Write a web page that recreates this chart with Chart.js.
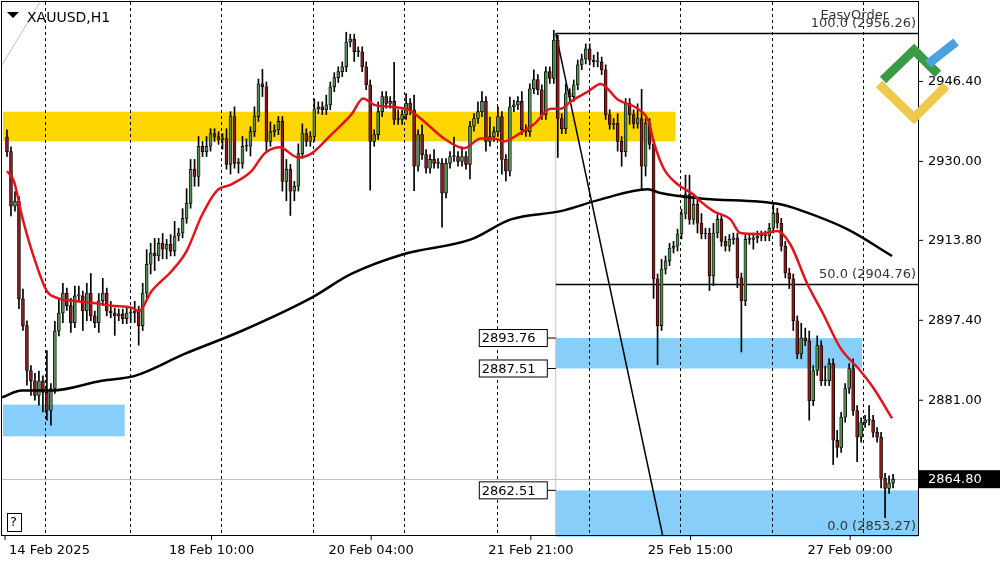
<!DOCTYPE html>
<html><head><meta charset="utf-8">
<script src="https://cdn.jsdelivr.net/npm/chart.js@4/dist/chart.umd.min.js"></script>
<style>html,body{margin:0;padding:0;background:#fff}#w{width:1000px;height:562px}</style>
</head><body><div id="w"><canvas id="c"></canvas></div>
<script>
const symbol = "XAUUSD,H1";
const firstOpen = 2935.0;
const closes = [
2932.0,2920.8,2921.8,2901.8,2896.3,2887.1,2885.0,2882.0,2885.0,2882.6,2878.9,2883.4,2895.2,2898.9,2903.0,2900.4,2896.9,2902.4,2902.4,2899.3,
2903.0,2898.3,2896.9,2901.4,2903.0,2899.3,2898.9,2898.3,2898.7,2897.7,2898.9,2898.9,2899.3,2896.3,2903.0,2908.9,2911.2,2910.6,2913.2,2912.0,
2913.0,2911.6,2914.7,2915.3,2918.3,2921.4,2928.4,2926.9,2933.1,2932.0,2933.1,2935.7,2935.1,2934.5,2934.7,2929.4,2939.2,2929.6,2929.6,2933.1,
2933.1,2936.1,2939.2,2945.9,2945.3,2934.1,2936.1,2936.5,2938.2,2925.9,2928.4,2923.9,2924.9,2931.6,2935.7,2934.1,2935.1,2940.8,2941.2,2940.6,
2941.6,2945.3,2947.2,2948.4,2949.4,2954.5,2955.1,2952.5,2952.5,2949.4,2945.7,2934.1,2935.5,2940.2,2943.3,2941.9,2942.3,2938.6,2938.6,2939.6,
2941.9,2940.6,2929.0,2935.5,2931.4,2928.6,2930.4,2929.6,2929.6,2923.5,2929.6,2931.0,2931.0,2930.0,2931.0,2929.4,2937.2,2938.8,2940.2,2942.3,
2934.1,2935.1,2936.1,2939.2,2930.4,2928.0,2941.2,2941.6,2942.3,2936.5,2936.1,2944.9,2946.8,2944.7,2939.6,2948.4,2947.0,2954.9,2938.8,2936.7,
2943.9,2943.3,2945.7,2949.8,2951.0,2953.1,2950.8,2950.4,2950.4,2948.8,2939.6,2937.6,2937.8,2934.1,2932.0,2941.9,2939.6,2937.8,2938.8,2929.0,
2937.8,2933.5,2905.9,2896.3,2907.9,2909.6,2912.2,2912.6,2915.1,2919.2,2923.2,2918.1,2921.2,2917.3,2915.1,2915.3,2906.5,2915.3,2918.1,2913.6,
2912.6,2914.0,2914.3,2906.1,2901.4,2914.0,2914.0,2914.3,2914.7,2914.7,2914.7,2916.3,2919.4,2917.3,2912.6,2907.1,2905.9,2897.3,2890.5,2893.8,
2893.2,2880.9,2887.1,2892.2,2885.0,2885.0,2888.5,2872.8,2871.3,2877.5,2883.4,2887.5,2878.9,2873.4,2876.4,2876.9,2876.9,2874.4,2873.4,2865.0,
2862.9,2864.0,2864.8];
const wickUp = [
1.5,1,2,1,2,1,1,1.5,2,1,8.6,1,2,3,2,1,1.5,2,2,1,
2,4,1,1.5,3,1,2,1,1,1,1,1,2,1,2,3,2,3,1,2,
1,2,3,1,2,3,2,2,2,1,2,1,1,1,1,2,1,2,1,2,
1.5,1,2,1,3,1,2,1,1,1,2,1,1,2,2,1,1,2,1,1,
2,1,1,1,1,2,1,1,1,1,1,1,1,2,1,1,1,8,2,1,
2,1,3,1,2,1,1,2,1,1,1,1,4,1,2,1,1,1,2,2,
1,4,1,2,1,1,2,1,1,2,1,1,2,1,1,1,1,2,1,1,
2,1,1,1,1,1,1,1,2,1,1,1,1,2,1,1,1,1,3,6,
1,1,1,1,2,1,1,1,1,1,4,4,2,1,2,1,1,2,1,1,
1,1,1,1,1,1,1,1,1,1,1,1,2,1,1,1,1,1,1,3,
2,2,1,2,1,3,1,1,2,1,1,1,2,1,1,1,3,1,1,1,
1,1.5,1];
const wickDn = [
1,2,1,2,1,3,3,1,2,4,2,3,1,1,2,1,2,1,1,4,
2,1,1,2,1,1,1,4,1,1,1,2,2,4,1,1,2,3,1,2,
2,1,1,1,1,1,1,2,2,1,1,1,1,1,2,1,2,1,2,1,
1,2,1,1,2,2,1,1,1,2,4,5,2,1,1,1,1,1,1,1,
1,1,1,1,1,1,1,2,1,1,1,10,1,1,1,1,1,1,1,1,
1,1,5,1,1,1,1,1,1,7,1,1,1,1,1,1,3,1,1,1,
2,1,1,1,3,2,1,1,1,1,1,1,1,1,1,1,1,1,8,1,
1,1,1,1,1,1,1,1,1,1,1,1,1,2,3,1,2,1,1,5,
2,1,4,8,1,1,1,1,1,1,1,1,1,2,1,1,3,2,1,1,
1,1,1,2,10.5,1,1,2,1,1,1,1,1,1,1,1,2,2,1,1,
1,4,1,1,1,1,1,5,2,1,1,1,1,5,1,1,1,1,1,2,
6,1,1];
const maFastIdx = [0,1.75,3.75,6.25,10,12.5,16.25,21.25,26.25,31.25,33,36.25,41.25,45,48.75,52.5,56.25,61.25,64.5,68.25,73,76.25,81.25,86.25,89.25,92,96.25,100.5,104.5,109.5,114.5,118.75,122,124.5,128,132,136.25,138.75,141.25,145.5,148.75,153,158,160.75,162,164.5,168,172,173.75,177,181.25,183.75,188.75,193,196.25,200.5,204.5,208.75,213.75,217,221.75];
const maFastVal = [2928.0,2925.9,2918.8,2911.6,2903.4,2902.0,2901.4,2901.0,2900.4,2900.0,2899.3,2903.4,2907.5,2911.6,2918.8,2923.9,2925.3,2928.0,2931.6,2932.9,2930.8,2931.6,2935.5,2939.6,2942.9,2941.6,2941.2,2940.6,2938.2,2934.7,2932.7,2934.7,2934.7,2934.1,2935.5,2937.6,2940.8,2940.8,2942.3,2944.3,2945.9,2942.7,2940.8,2938.2,2934.1,2928.6,2925.3,2923.2,2921.8,2919.8,2918.1,2915.3,2915.1,2915.7,2913.0,2904.9,2898.7,2891.8,2887.1,2883.6,2877.3];
const maSlowIdx = [-1.25,3.75,11.25,23.75,32,44.5,58.75,76.25,86.25,99.5,116.25,126.25,138.75,148.75,160.5,163.75,173.75,193.75,198,210.5,221.75];
const maSlowVal = [2881.6,2883.0,2883.0,2885.0,2886.0,2890.5,2895.2,2902.0,2906.9,2911.0,2914.0,2918.1,2919.8,2922.2,2924.3,2923.5,2922.4,2921.2,2920.2,2916.1,2910.6];
const yTicks = [2946.40,2930.00,2913.80,2897.40,2881.00];
const lastPrice = 2864.80;
const xLabels = ["14 Feb 2025","18 Feb 10:00","20 Feb 04:00","21 Feb 21:00","25 Feb 15:00","27 Feb 09:00"];
const xLabelIdx = [-0.5,51.25,91.25,131.25,171.25,211.25];
const daySeps = [9.5,30.75,53.5,76.75,99.5,122.75,145.75,168.5,191.75,214.5];
const fibHigh = 2956.26, fibMid = 2904.76, fibLow = 2853.27;
const zones = [
 {x0:-1,x1:167.5,lo:2934.1,hi:2940.2,c:'#ffd700'},
 {x0:-1,x1:29.5,lo:2873.6,hi:2880.1,c:'#87cefa'},
 {x0:137.5,x1:214.25,lo:2887.51,hi:2893.76,c:'#87cefa'},
 {x0:137.5,x1:229,lo:2853.0,hi:2862.51,c:'#87cefa'}];
const zoneLabels = [2893.76,2887.51,2862.51];

const opens = closes.map((c,i)=> i===0 ? firstOpen : closes[i-1]);
const wicks = closes.map((c,i)=>({x:i,y:[Math.min(opens[i],c)-wickDn[i],Math.max(opens[i],c)+wickUp[i]]}));
const bodies = closes.map((c,i)=>({x:i,y:[opens[i],c]}));
const bodyCol = closes.map((c,i)=> c>=opens[i] ? '#4f8f4f' : '#8b1a1a');

const font = "13px 'DejaVu Sans'";
const deco = {
 id:'deco',
 beforeDatasetsDraw(ch){
  const {ctx,chartArea:a,scales:{x,y}} = ch;
  ctx.save();
  zones.forEach(z=>{ctx.fillStyle=z.c;const X0=Math.max(x.getPixelForValue(z.x0),a.left),X1=Math.min(x.getPixelForValue(z.x1),a.right);
   ctx.fillRect(X0,y.getPixelForValue(z.hi),X1-X0,y.getPixelForValue(z.lo)-y.getPixelForValue(z.hi));});
  ctx.strokeStyle='#000';ctx.lineWidth=1;ctx.setLineDash([3,3]);
  daySeps.forEach(d=>{const X=Math.round(x.getPixelForValue(d))+0.5;ctx.beginPath();ctx.moveTo(X,a.top);ctx.lineTo(X,a.bottom);ctx.stroke();});
  ctx.setLineDash([]);
  ctx.strokeStyle='#c0c0c0';
  const ly=Math.round(y.getPixelForValue(lastPrice))+0.5;
  ctx.beginPath();ctx.moveTo(a.left,ly);ctx.lineTo(a.right,ly);ctx.stroke();
  const fx=x.getPixelForValue(137.5);
  ctx.beginPath();ctx.moveTo(fx,y.getPixelForValue(fibHigh));ctx.lineTo(fx,a.bottom);ctx.stroke();
  ctx.beginPath();ctx.moveTo(a.left,65);ctx.lineTo(40,a.top);ctx.stroke();
  ctx.strokeStyle='#000';ctx.lineWidth=1.5;
  [fibHigh,fibMid].forEach(p=>{const Y=y.getPixelForValue(p);ctx.beginPath();ctx.moveTo(fx,Y);ctx.lineTo(a.right,Y);ctx.stroke();});
  ctx.beginPath();ctx.moveTo(fx,y.getPixelForValue(fibHigh));ctx.lineTo(x.getPixelForValue(164.25),a.bottom);ctx.stroke();
  ctx.restore();
 },
 afterDraw(ch){
  const {ctx,chartArea:a,scales:{x,y}} = ch;
  ctx.save();
  ctx.strokeStyle='#000';ctx.lineWidth=1;ctx.strokeRect(a.left-0.5,a.top-0.5,a.right-a.left+1,a.bottom-a.top+1);
  ctx.font=font;ctx.fillStyle='#000';ctx.textBaseline='middle';
  yTicks.forEach(t=>{const Y=y.getPixelForValue(t);ctx.beginPath();ctx.moveTo(a.right,Y);ctx.lineTo(a.right+5,Y);ctx.stroke();ctx.fillText(t.toFixed(2),a.right+10,Y);});
  const LY=y.getPixelForValue(lastPrice);
  ctx.fillStyle='#000';ctx.fillRect(a.right+1,LY-9,81,18);ctx.fillStyle='#fff';ctx.fillText(lastPrice.toFixed(2),a.right+10,LY);
  ctx.fillStyle='#000';ctx.textBaseline='alphabetic';
  xLabels.forEach((l,i)=>{const X=x.getPixelForValue(xLabelIdx[i]);ctx.beginPath();ctx.moveTo(X,a.bottom);ctx.lineTo(X,a.bottom+5);ctx.stroke();
   ctx.textAlign=i===0?'left':'center';ctx.fillText(l,i===0?X+4:X,554);});
  ctx.textAlign='left';
  ctx.font="14px 'DejaVu Sans'";ctx.fillText(symbol,27,22);
  ctx.beginPath();ctx.moveTo(7,12);ctx.lineTo(19,12);ctx.lineTo(13,18);ctx.fill();
  ctx.font=font;ctx.textBaseline='middle';
  const fx=x.getPixelForValue(137.5);
  zoneLabels.forEach(p=>{const Y=y.getPixelForValue(p);ctx.fillStyle='#fff';ctx.fillRect(fx-77,Y-9,69,18);ctx.strokeRect(fx-76.5,Y-8.5,68,17);
   ctx.fillStyle='#000';ctx.fillText(p.toFixed(2),fx-74,Y+1);ctx.beginPath();ctx.moveTo(fx-8,Y);ctx.lineTo(fx,Y);ctx.stroke();});
  ctx.fillStyle='#333';ctx.textAlign='right';
  ctx.fillText('50.0 ('+fibMid.toFixed(2)+')',a.right-2,y.getPixelForValue(fibMid)-10);
  ctx.fillText('0.0 ('+fibLow.toFixed(2)+')',a.right-2,a.bottom-8);
  ctx.fillText('100.0 ('+fibHigh.toFixed(2)+')',a.right-2,y.getPixelForValue(fibHigh)-10);
  ctx.fillText('EasyOrder',a.right-30,16);
  ctx.textAlign='left';
  ctx.fillStyle='#fff';ctx.fillRect(7,513,15,19);ctx.strokeRect(7.5,513.5,14,18);ctx.fillStyle='#000';ctx.fillText('?',10,523);
  // logo
  ctx.lineCap='butt';ctx.lineWidth=9;
  ctx.strokeStyle='#3a9a46';ctx.beginPath();ctx.moveTo(883,80);ctx.lineTo(914,50);ctx.lineTo(938,74);ctx.stroke();
  ctx.strokeStyle='#4aa3df';ctx.beginPath();ctx.moveTo(928,64);ctx.lineTo(956,42);ctx.stroke();
  ctx.strokeStyle='#f0c84a';ctx.beginPath();ctx.moveTo(879,84);ctx.lineTo(914,118);ctx.lineTo(946,86);ctx.stroke();
  ctx.restore();
 }
};

new Chart(document.getElementById('c'),{
 data:{datasets:[
  {type:'bar',data:wicks,backgroundColor:'#000',barThickness:1,grouped:false,order:3},
  {type:'bar',data:bodies,backgroundColor:bodyCol,borderColor:'#000',borderWidth:0.8,borderSkipped:false,barThickness:3,minBarLength:1,grouped:false,order:2},
  {type:'line',data:maSlowIdx.map((v,i)=>({x:v,y:maSlowVal[i]})),borderColor:'#000',borderWidth:2.5,pointRadius:0,cubicInterpolationMode:'monotone',order:1},
  {type:'line',data:maFastIdx.map((v,i)=>({x:v,y:maFastVal[i]})),borderColor:'#e3131b',borderWidth:2.5,pointRadius:0,cubicInterpolationMode:'monotone',order:0}
 ]},
 options:{responsive:true,maintainAspectRatio:false,animation:false,events:[],
  layout:{padding:{left:2,right:82,top:2,bottom:27}},
  plugins:{legend:{display:false},tooltip:{enabled:false}},
  scales:{x:{type:'linear',min:-1.25,max:228.25,display:false,offset:false},
          y:{min:2853.35,max:2962.7,display:false}}},
 plugins:[deco]
});
</script></body></html>
